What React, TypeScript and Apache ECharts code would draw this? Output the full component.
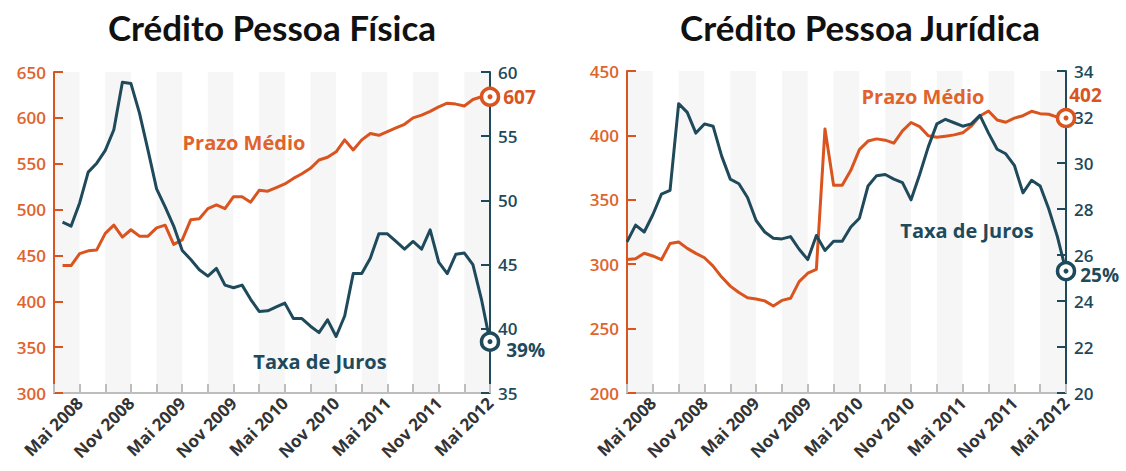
import React, { useEffect, useRef } from "react";
import * as echarts from "echarts";

// Month categories (Fev 2008 .. Mai 2012)
const months: string[] = [
  "Fev 2008", "Mar 2008", "Abr 2008", "Mai 2008", "Jun 2008", "Jul 2008", "Ago 2008", "Set 2008", "Out 2008", "Nov 2008", "Dez 2008",
  "Jan 2009", "Fev 2009", "Mar 2009", "Abr 2009", "Mai 2009", "Jun 2009", "Jul 2009", "Ago 2009", "Set 2009", "Out 2009", "Nov 2009", "Dez 2009",
  "Jan 2010", "Fev 2010", "Mar 2010", "Abr 2010", "Mai 2010", "Jun 2010", "Jul 2010", "Ago 2010", "Set 2010", "Out 2010", "Nov 2010", "Dez 2010",
  "Jan 2011", "Fev 2011", "Mar 2011", "Abr 2011", "Mai 2011", "Jun 2011", "Jul 2011", "Ago 2011", "Set 2011", "Out 2011", "Nov 2011", "Dez 2011",
  "Jan 2012", "Fev 2012", "Mar 2012", "Abr 2012", "Mai 2012",
];

// Crédito Pessoa Física
const pfPrazo: (number | null)[] = [
  null, 439, 439, 452, 455, 456, 474, 483, 470, 478, 471, 471, 480, 483, 462, 467, 489, 490, 501, 505, 501,
  514, 514, 508, 521, 520, 524, 528, 534, 539, 545, 554, 557, 563, 576, 565, 576, 583, 581, 585, 589,
  593, 600, 603, 607, 612, 616, 615, 613, 620, 623, 623,
];
const pfTaxa: (number | null)[] = [
  null, 48.3, 48.0, 49.8, 52.2, 52.9, 53.9, 55.5, 59.2, 59.1, 56.8, 53.9, 50.9, 49.5, 48.0, 46.1, 45.4, 44.6,
  44.1, 44.7, 43.4, 43.2, 43.4, 42.3, 41.35, 41.4, 41.7, 42.0, 40.8, 40.8, 40.2, 39.7, 40.7, 39.4, 41.0, 44.3,
  44.3, 45.5, 47.4, 47.4, 46.8, 46.2, 46.8, 46.2, 47.7, 45.2, 44.3, 45.8, 45.9, 45.0, 42.3, 39.0,
];

// Crédito Pessoa Jurídica
const pjPrazo: number[] = [
  303.6, 304.3, 308.5, 306.4, 303.5, 316, 317.2, 312.3, 308.4, 305, 298.5, 290, 283, 278, 274, 273, 271.5,
  267.5, 271.9, 273.5, 286.5, 293, 296, 405, 361.3, 361.3, 372.9, 389, 395.6, 397.3, 396.3, 394, 403.5, 410,
  406.8, 399.7, 398.5, 399.4, 400.4, 402, 407.3, 415, 419, 412, 410.2, 413.4, 415.3, 418.7, 416.9, 416.4,
  414.2, 413.5,
];
const pjTaxa: number[] = [
  26.57, 27.3, 27.0, 27.75, 28.65, 28.81, 32.58, 32.2, 31.3, 31.7, 31.6, 30.3, 29.3, 29.1, 28.5, 27.5, 27.0,
  26.73, 26.7, 26.8, 26.25, 25.8, 26.85, 26.2, 26.6, 26.6, 27.22, 27.6, 29.0, 29.45, 29.5, 29.3, 29.15, 28.4,
  29.5, 30.7, 31.7, 31.9, 31.75, 31.6, 31.7, 32.07, 31.3, 30.6, 30.4, 29.9, 28.7, 29.25, 29.0, 28.0, 26.8, 25.3,
];

const titles = ["Crédito Pessoa Física", "Crédito Pessoa Jurídica"];
const seriesNames = ["Prazo Médio", "Taxa de Juros"];
const endLabels = { pfPrazo: "607", pfTaxa: "39%", pjPrazo: "402", pjTaxa: "25%" };

const ORANGE = "#d9541f";
const ORANGE_TXT = "#e0632c";
const TEAL = "#1e4a5c";
const GREY = "#bdbdbd";
const FONT = "Open Sans";

function xAxis(gridIndex: number) {
  return {
    type: "category",
    gridIndex,
    data: months,
    boundaryGap: false,
    axisLine: { show: true, onZero: false, lineStyle: { color: GREY, width: 2 } },
    axisTick: { show: true, inside: true, length: 9, interval: 2, lineStyle: { color: GREY, width: 2 } },
    axisLabel: {
      show: true,
      interval: (i: number) => i % 6 === 3,
      rotate: 45,
      margin: 7,
      color: "#333333",
      fontFamily: FONT,
      fontWeight: "bold",
      fontSize: 17,
    },
    splitLine: { show: false },
    splitArea: { show: true, interval: 2, areaStyle: { color: ["#f6f6f6", "#ffffff"] } },
  };
}

function yAxis(gridIndex: number, position: string, min: number, max: number, interval: number, color: string, txt: string) {
  return {
    type: "value",
    gridIndex,
    position,
    min,
    max,
    interval,
    axisLine: { show: true, lineStyle: { color, width: 2 } },
    axisTick: { show: true, inside: true, length: 9, lineStyle: { color, width: 2 } },
    axisLabel: { show: true, color: txt, fontSize: 17, fontWeight: 600, fontFamily: FONT, margin: 8 },
    splitLine: { show: false },
    splitArea: { show: false },
  };
}

function lineSeries(name: string, x: number, y: number, data: (number | null)[], color: string) {
  return {
    name,
    type: "line",
    xAxisIndex: x,
    yAxisIndex: y,
    data,
    showSymbol: false,
    symbol: "none",
    connectNulls: false,
    lineStyle: { color, width: 3, join: "round" },
    z: 3,
  };
}

function endMarker(x: number, y: number, data: (number | null)[], color: string, label: string, offset: number[]) {
  const last = data.length - 1;
  return [
    {
      type: "scatter",
      xAxisIndex: x,
      yAxisIndex: y,
      data: [[last, data[last]]],
      symbol: "circle",
      symbolSize: 17,
      itemStyle: { color: "#ffffff", borderColor: color, borderWidth: 3.5, opacity: 1 },
      label: {
        show: true,
        position: "right",
        distance: 3,
        offset,
        formatter: () => label,
        color,
        fontFamily: FONT,
        fontWeight: "bold",
        fontSize: 19,
      },
      z: 5,
      silent: true,
    },
    {
      type: "scatter",
      xAxisIndex: x,
      yAxisIndex: y,
      data: [[last, data[last]]],
      symbol: "circle",
      symbolSize: 5,
      itemStyle: { color, opacity: 1 },
      z: 6,
      silent: true,
    },
  ];
}

function textEl(text: string, x: number, y: number, color: string, size: number, family: string) {
  return {
    type: "text",
    x,
    y,
    style: {
      text,
      fill: color,
      fontSize: size,
      fontWeight: "bold",
      fontFamily: family,
      align: "center",
      verticalAlign: "middle",
    },
    z: 10,
  };
}

export default function App() {
  const ref = useRef<HTMLDivElement>(null);
  useEffect(() => {
    if (!ref.current) return;
    const chart = echarts.init(ref.current, undefined, { renderer: "svg" });
    const option = {
      animation: false,
      backgroundColor: "#ffffff",
      grid: [
        { left: 54, top: 72, width: 436, height: 321 },
        { left: 627, top: 71, width: 439, height: 322 },
      ],
      xAxis: [xAxis(0), xAxis(1)],
      yAxis: [
        yAxis(0, "left", 300, 650, 50, ORANGE, ORANGE_TXT),
        yAxis(0, "right", 35, 60, 5, TEAL, TEAL),
        yAxis(1, "left", 200, 450, 50, ORANGE, ORANGE_TXT),
        yAxis(1, "right", 20, 34, 2, TEAL, TEAL),
      ],
      series: [
        lineSeries(seriesNames[0], 0, 0, pfPrazo, ORANGE),
        lineSeries(seriesNames[1], 0, 1, pfTaxa, TEAL),
        lineSeries(seriesNames[0], 1, 2, pjPrazo, ORANGE),
        lineSeries(seriesNames[1], 1, 3, pjTaxa, TEAL),
        ...endMarker(0, 0, pfPrazo, ORANGE, endLabels.pfPrazo, [0, 0]),
        ...endMarker(0, 1, pfTaxa, TEAL, endLabels.pfTaxa, [3, 8]),
        ...endMarker(1, 2, pjPrazo, ORANGE, endLabels.pjPrazo, [-10, -23]),
        ...endMarker(1, 3, pjTaxa, TEAL, endLabels.pjTaxa, [1, 4]),
      ],
      graphic: [
        textEl(titles[0], 272, 27, "#111111", 35, "Lato"),
        textEl(titles[1], 860, 27, "#111111", 35, "Lato"),
        textEl(seriesNames[0], 244, 142, ORANGE_TXT, 20, FONT),
        textEl(seriesNames[1], 320, 361, TEAL, 20, FONT),
        textEl(seriesNames[0], 923, 96, ORANGE_TXT, 20, FONT),
        textEl(seriesNames[1], 967, 230, TEAL, 20, FONT),
      ],
    };
    chart.setOption(option as any);
    return () => chart.dispose();
  }, []);
  return (
    <div
      ref={ref}
      style={{ position: "absolute", left: 0, top: 0, width: 1126, height: 471, background: "#fff" }}
    />
  );
}
